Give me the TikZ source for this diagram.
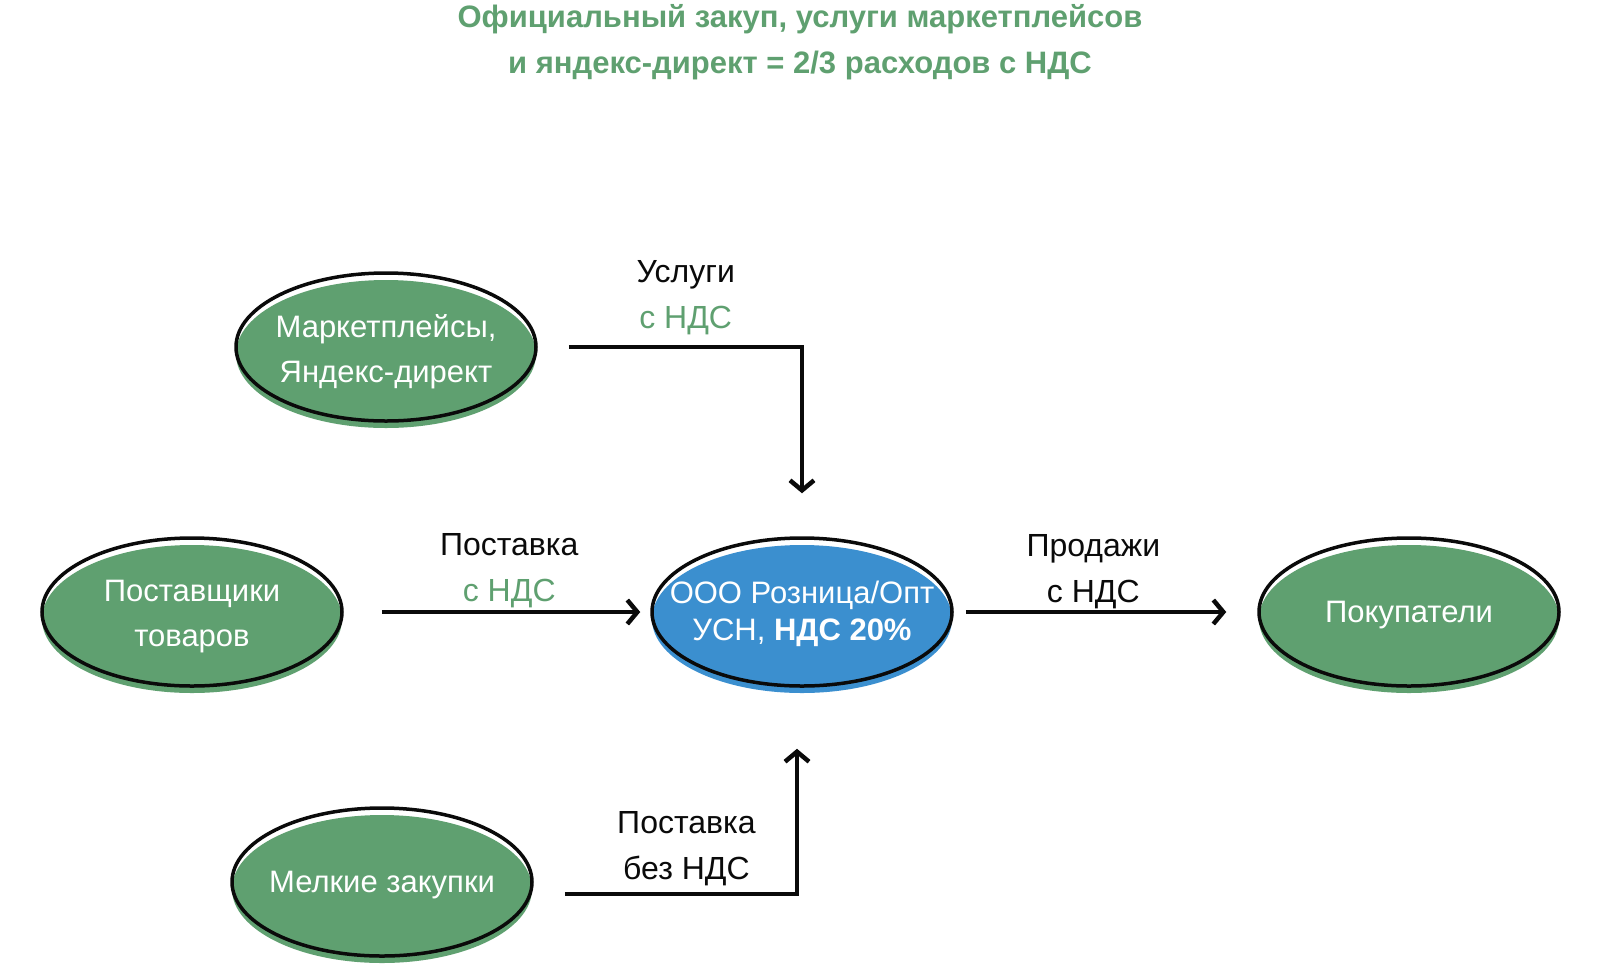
\documentclass[tikz,border=0pt]{standalone}
\usepackage{fontspec}
\setmainfont{Liberation Sans}
\usepackage{tikz}
\usetikzlibrary{positioning, arrows.meta, shapes.geometric, calc}
\definecolor{leaf}{HTML}{5FA070}
\definecolor{sea}{HTML}{3B8FCF}
\definecolor{jet}{HTML}{0A0A0A}
\tikzset{
    blob/.style = {ellipse, draw=jet, line width=3.5pt, minimum width=300pt,
                   minimum height=148pt, inner sep=0pt,
                   preaction={fill=#1, transform canvas={yshift=-7pt}}},
    blob/.default = leaf,
    blobtxt/.style = {text=white, align=center, inner sep=0pt, yshift=-5pt,
                      font=\fontsize{31}{45}\selectfont},
    lbl/.style = {align=center, font=\fontsize{32}{46}\selectfont, inner sep=2pt},
    arrow/.style = {-{Straight Barb[length=10pt, width=24pt, line width=4.5pt]}, line width=3.5pt, color=jet},
}

\begin{document}
\begin{tikzpicture}[x=1pt, y=-1pt]
        \useasboundingbox (0,0) rectangle (1600,967);
        \node[lbl, font=\bfseries\fontsize{31}{46}\selectfont, text=leaf] (title) at (800,42)
            {Официальный закуп, услуги маркетплейсов\\и яндекс-директ = 2/3 расходов с НДС};
        \node[blob, label={[blobtxt]center:{Маркетплейсы,\\Яндекс-директ}}] (mp) at (386,347) {};
        \node[blob, label={[blobtxt]center:{Поставщики\\товаров}}] (sup) at (192,612) {};
        \node[blob=sea, label={[blobtxt, yshift=3pt, font=\fontsize{31}{37}\selectfont]center:{ООО Розница/Опт\\УСН, \textbf{НДС 20\%}}}] (org) at (802,612) {};
        \node[blob, label={[blobtxt, yshift=2pt]center:Покупатели}] (buy) at (1409,612) {};
        \node[blob, label={[blobtxt, yshift=2pt]center:Мелкие закупки}] (small) at (382,882) {};
        \draw[arrow, shorten <=31pt, shorten >=43pt] (mp) -| node[pos=0.28, above=8pt, lbl]
            {Услуги\\\textcolor{leaf}{с НДС}} (org);
        \draw[arrow, shorten <=38pt, shorten >=10pt] (sup) -- node[pos=0.54, above=0pt, lbl]
            {Поставка\\\textcolor{leaf}{с НДС}} (org);
        \draw[arrow, shorten <=12pt, shorten >=31pt] (org) -- node[pos=0.46, above=-1pt, lbl]
            {Продажи\\с НДС} (buy);
        \draw[arrow, shorten <=31pt, shorten >=61pt] ([yshift=-12pt]small.east) -| node[pos=0.29, above=4pt, lbl]
            {Поставка\\без НДС} ([xshift=-5pt]org.south);
      \end{tikzpicture}
\end{document}
